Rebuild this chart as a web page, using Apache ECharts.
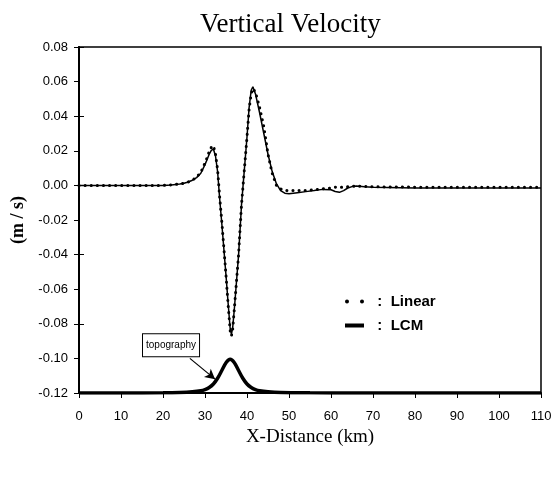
<!DOCTYPE html>
<html>
<head>
<meta charset="utf-8">
<script src="https://cdn.jsdelivr.net/npm/echarts@6/dist/echarts.min.js"></script>
<style>
html,body{margin:0;padding:0;background:#fff;}
#chart{width:556px;height:479px;}
</style>
</head>
<body>
<div id="chart"></div>
<script>
// ---- data ----
var xKm = [0,5,10,15,20,22,24,25,26,27,28,29,30,30.5,31,31.5,32,32.5,33,33.5,34,35,35.5,36,36.3,36.6,37,38,38.7,39,40,40.5,41,41.4,42,43,44,45,46,47,48,49,50,52,54,56,58,60,61,62,63,64,65,66,68,70,80,90,100,110];
var lcmVals = [0,0,0,0,0,
  0.0003,0.0008,0.0012,0.002,0.003,0.0045,0.007,0.012,
  0.015,0.018,0.0203,0.021,0.017,0.008,-0.008,-0.022,
  -0.052,-0.068,-0.083,-0.086,-0.082,-0.071,-0.040,-0.011,-0.002,
  0.028,0.045,0.055,0.057,0.053,0.042,0.030,0.018,0.008,0.001,
  -0.003,-0.0045,-0.0048,-0.0042,-0.0036,-0.003,-0.0023,-0.0025,-0.0035,-0.004,
  -0.003,-0.0015,-0.0007,-0.0004,-0.0008,-0.001,-0.0015,-0.0015,-0.0015,-0.0015];
var linearVals = [0,0,0,0,0,
  0.0003,0.0008,0.0012,0.002,0.003,0.0048,0.0075,0.013,
  0.016,0.0195,0.022,0.023,0.018,0.009,-0.007,-0.021,
  -0.052,-0.069,-0.084,-0.087,-0.083,-0.071,-0.040,-0.011,-0.002,
  0.028,0.044,0.053,0.056,0.054,0.045,0.034,0.018,0.007,0.000,
  -0.002,-0.003,-0.003,-0.003,-0.003,-0.0025,-0.002,-0.0015,-0.001,-0.0012,
  -0.001,-0.0008,-0.0005,-0.0004,-0.0006,-0.0008,-0.001,-0.001,-0.001,-0.001];
var topoX = [0,10,20,24,27,29,30,31,32,33,34,35,36,37,38,39,40,41,42,43,45,48,55,65,80,110];
var topoVals = [-0.12,-0.12,-0.1199,-0.1197,-0.1193,-0.1187,-0.118,-0.1168,-0.1148,-0.1115,-0.107,-0.1025,-0.1005,-0.1025,-0.107,-0.1115,-0.1148,-0.1168,-0.118,-0.1187,-0.1193,-0.1197,-0.1199,-0.12,-0.12,-0.12];
var xRange = [0, 110], xStep = 10;
var yRange = [-0.12, 0.08], yStep = 0.02;
var seriesNames = ['Linear', 'LCM'];
var annotationText = 'topography';

function pairs(xs, ys){ return xs.map(function(x,i){ return [x, ys[i]]; }); }

var chart = echarts.init(document.getElementById('chart'), null, {renderer:'canvas'});
var tickFont = {fontFamily:'"Liberation Sans", Arial, sans-serif', fontSize:13, color:'#000'};
var option = {
  backgroundColor:'#fff',
  animation:false,
  title:{
    text:'Vertical Velocity', left:195, top:6,
    textStyle:{fontFamily:'"Liberation Serif","Times New Roman",serif', fontSize:27, fontWeight:'normal', color:'#000'}
  },
  grid:{left:79, right:15, top:47, bottom:86, show:true, borderColor:'#000', borderWidth:1.5},
  legend:{
    orient:'vertical', left:340, top:289, itemGap:9,
    itemWidth:19, itemHeight:4,
    data:[
      {name:'Linear', icon:'path://M0,2a2,2 0 1,0 4,0a2,2 0 1,0 -4,0ZM15,2a2,2 0 1,0 4,0a2,2 0 1,0 -4,0Z'},
      {name:'LCM', icon:'rect'}
    ],
    formatter:function(n){ return '  :  ' + n; },
    textStyle:{fontFamily:'"Liberation Sans", Arial, sans-serif', fontSize:15, fontWeight:'bold', color:'#000'},
    itemStyle:{color:'#000', borderWidth:0}
  },
  xAxis:{
    type:'value', min:xRange[0], max:xRange[1], interval:xStep,
    name:'X-Distance (km)', nameLocation:'middle', nameGap:35,
    nameTextStyle:{fontFamily:'"Liberation Serif","Times New Roman",serif', fontSize:19, color:'#000'},
    axisLine:{show:true, onZero:false, lineStyle:{color:'#000', width:2}},
    axisTick:{show:true, length:5, lineStyle:{color:'#000', width:1}},
    axisLabel:Object.assign({margin:17}, tickFont),
    splitLine:{show:false}
  },
  yAxis:[{
    type:'value', min:yRange[0], max:yRange[1], interval:yStep,
    name:'(m / s)', nameLocation:'middle', nameGap:47, nameRotate:90,
    nameTextStyle:{fontFamily:'"Liberation Serif","Times New Roman",serif', fontSize:18, fontWeight:'bold', color:'#000'},
    axisLine:{show:true, onZero:false, lineStyle:{color:'#000', width:2}},
    axisTick:{show:true, length:5, lineStyle:{color:'#000', width:1}},
    axisLabel:Object.assign({margin:11, formatter:function(v){ return v.toFixed(2); }}, tickFont),
    splitLine:{show:false}
  },{
    type:'value', position:'right', min:yRange[0], max:yRange[1], interval:yStep*2,
    axisLine:{show:true, lineStyle:{color:'#000', width:1.5}},
    axisTick:{show:true, length:5, lineStyle:{color:'#000', width:1}},
    axisLabel:{show:false}, splitLine:{show:false}
  }],
  series:[
    {
      name:seriesNames[0], type:'line', data:pairs(xKm, linearVals), showSymbol:false, symbol:'none',
      lineStyle:{color:'#000', width:3, type:[0.1, 6], cap:'round'},
      itemStyle:{color:'#000'}, z:2
    },
    {
      name:seriesNames[1], type:'line', data:pairs(xKm, lcmVals), showSymbol:false, symbol:'none',
      lineStyle:{color:'#000', width:1.5}, itemStyle:{color:'#000'}, z:3
    },
    {
      name:'topography', type:'line', data:pairs(topoX, topoVals), showSymbol:false, symbol:'none', smooth:0.3,
      lineStyle:{color:'#000', width:3.5}, itemStyle:{color:'#000'}, z:3,
      markLine:{
        silent:true, symbol:['none','arrow'], symbolSize:[8,10],
        lineStyle:{color:'#000', width:1.2, type:'solid'}, label:{show:false},
        data:[[{coord:[26.4,-0.1000]},{coord:[32.4,-0.1120]}]]
      }
    }
  ]
};
chart.setOption(option);

var p = chart.convertToPixel({xAxisIndex:0, yAxisIndex:0}, [15.0, -0.0855]);
chart.setOption({
  graphic:[{
    type:'text', left:p[0], top:p[1], z:10,
    style:{
      text:annotationText, fill:'#000',
      font:'10px "Liberation Sans", Arial, sans-serif',
      backgroundColor:'#fff', borderColor:'#000', borderWidth:1,
      padding:[6,3,6,3]
    }
  }]
});
</script>
</body>
</html>
